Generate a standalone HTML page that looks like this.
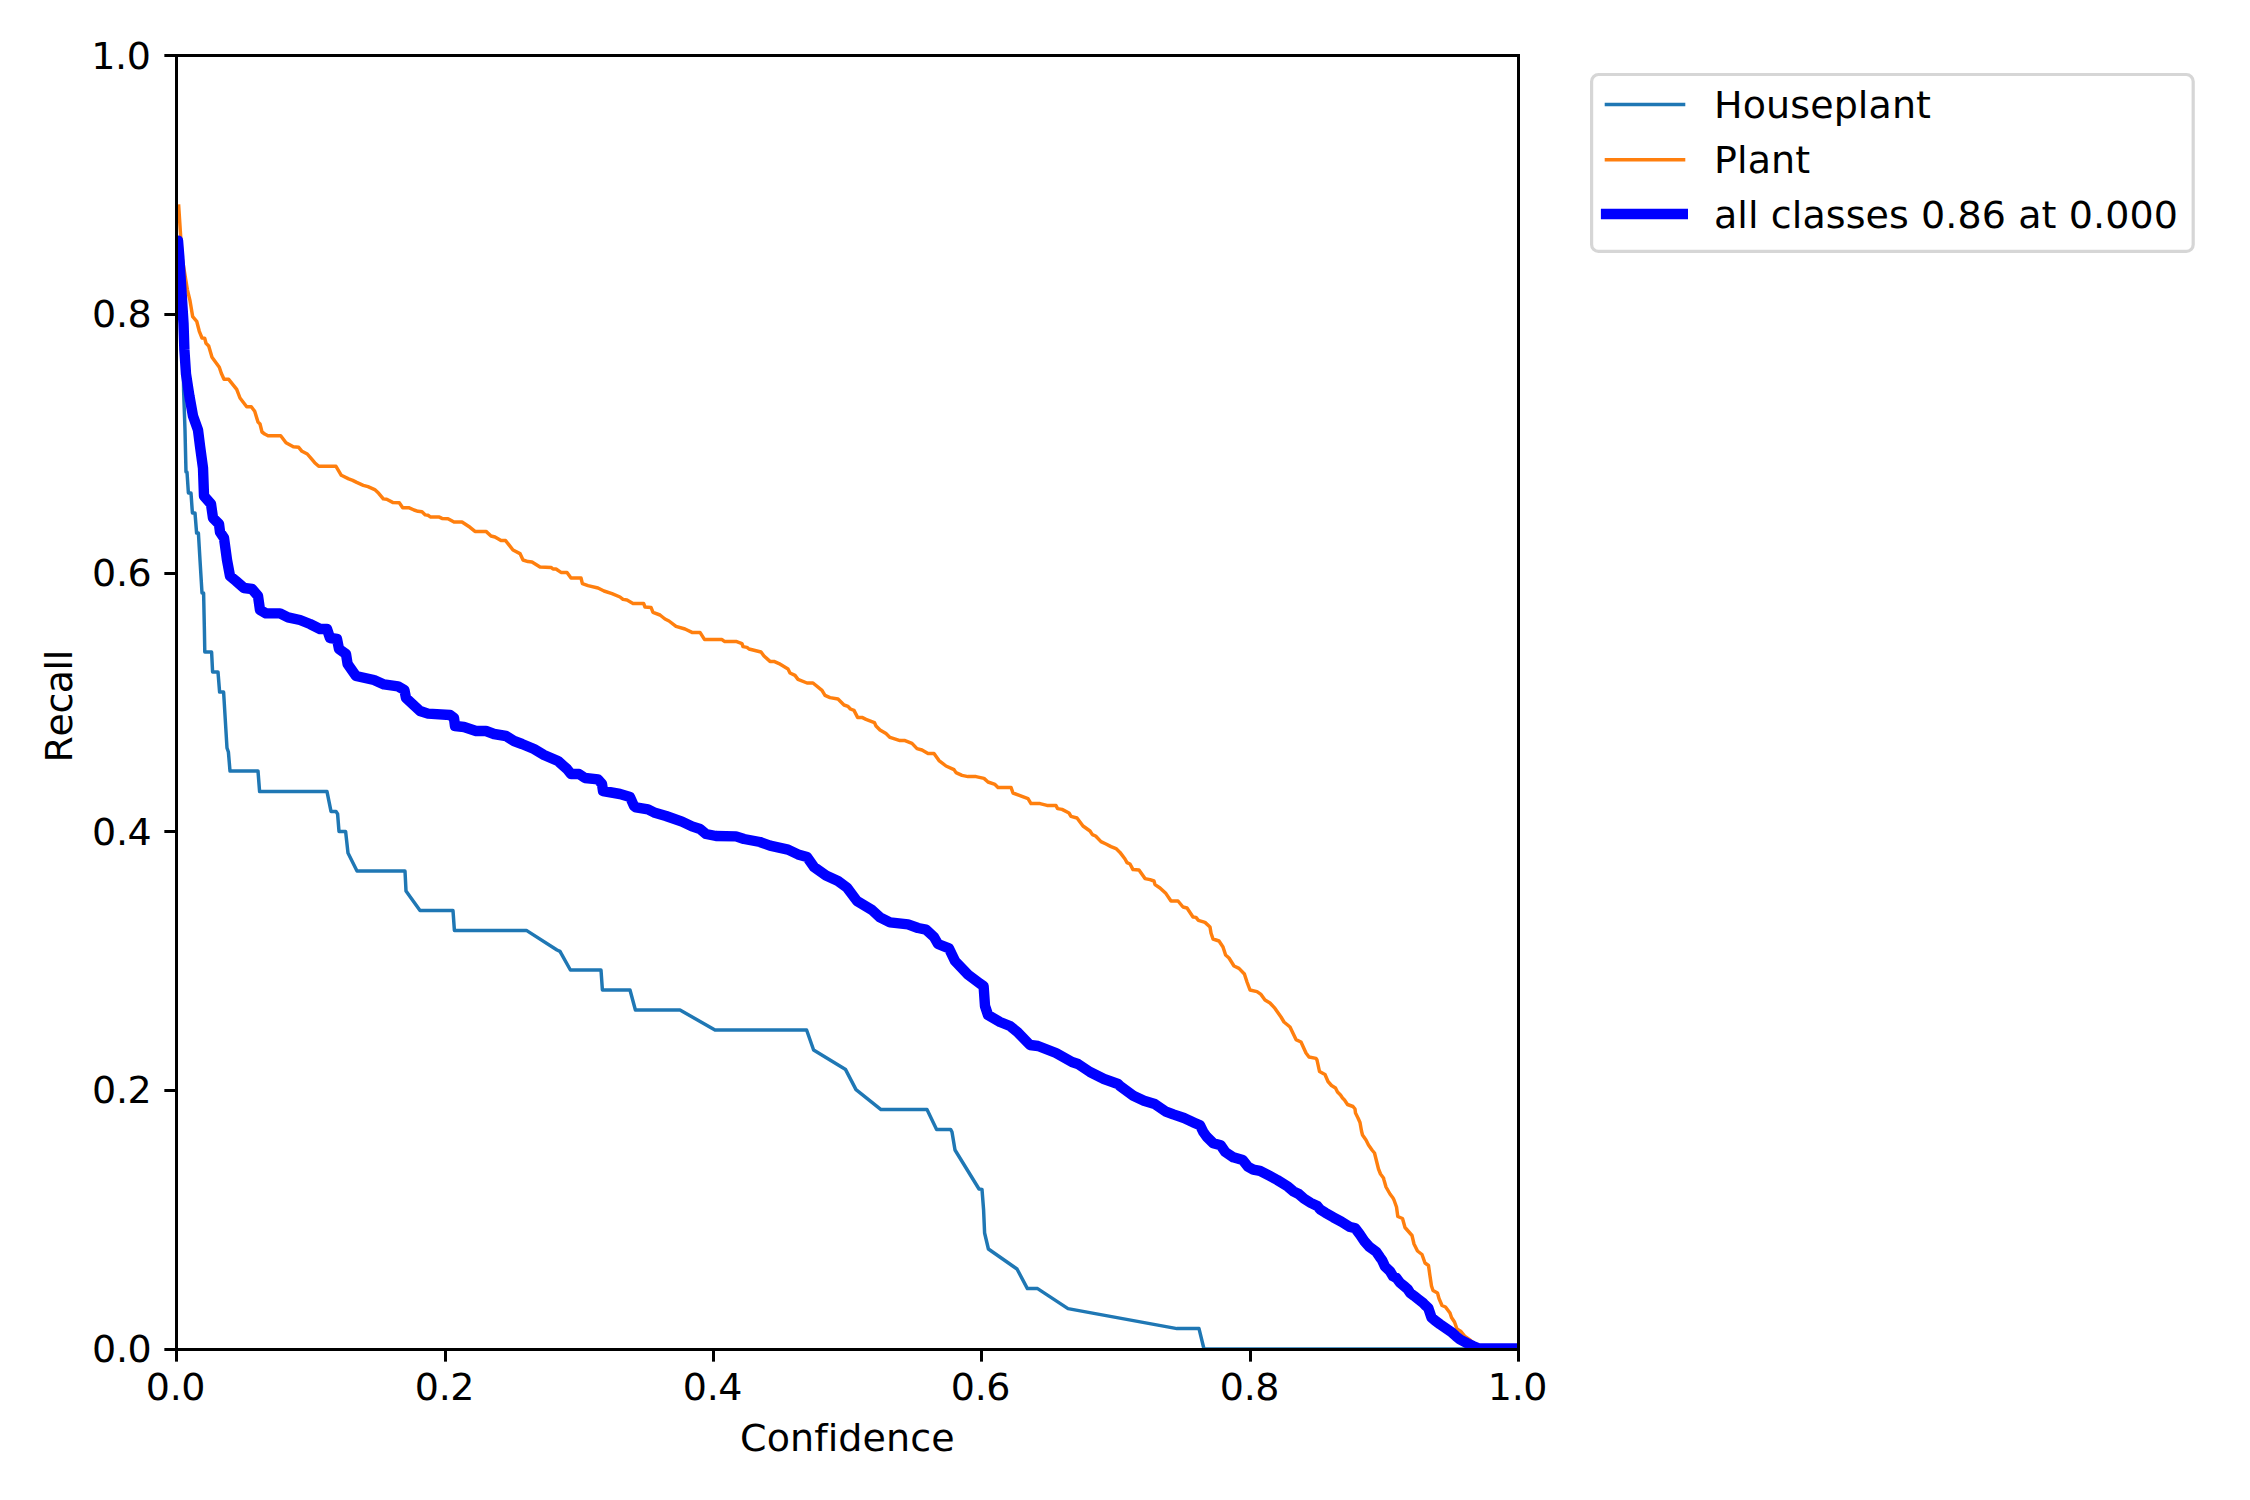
<!DOCTYPE html>
<html><head><meta charset="utf-8"><title>Recall-Confidence Curve</title>
<style>
html,body{margin:0;padding:0;background:#fff;}
body{width:2250px;height:1500px;overflow:hidden;}
svg{display:block;}
text{font-family:"DejaVu Sans","Liberation Sans",sans-serif;font-size:38.00px;fill:#000;font-variant-ligatures:none;font-kerning:none;}
</style></head><body>
<svg width="2250" height="1500" viewBox="0 0 2250 1500">
<rect width="2250" height="1500" fill="#fff"/>
<defs><clipPath id="ax"><rect x="176.5" y="55.5" width="1342.0" height="1294.0"/></clipPath></defs>

<g clip-path="url(#ax)" fill="none" stroke-linejoin="round" stroke-linecap="square">
<path d="M176.5,274.0 L180.0,275.0 L182.0,300.0 L183.2,350.0 L183.6,390.0 L185.0,430.0 L186.0,472.0 L187.0,472.0 L188.4,493.0 L191.0,493.0 L192.4,513.0 L195.0,513.0 L196.6,533.0 L198.4,533.0 L200.0,560.0 L202.0,593.0 L203.6,593.0 L204.4,630.0 L204.8,652.0 L211.6,652.0 L212.6,672.0 L218.0,672.0 L219.6,692.0 L223.6,692.0 L227.0,748.0 L228.4,752.0 L230.0,771.0 L258.0,771.0 L259.6,791.6 L327.0,791.6 L331.0,811.4 L336.0,811.4 L337.6,814.0 L339.0,831.4 L345.6,831.4 L348.0,853.0 L357.0,871.0 L405.0,871.0 L406.0,891.0 L420.0,910.6 L453.0,910.6 L454.4,930.4 L526.4,930.4 L557.0,950.0 L560.0,951.4 L570.4,970.0 L601.0,970.0 L602.4,990.0 L630.0,990.0 L635.4,1010.0 L680.0,1010.0 L715.0,1030.0 L770.0,1030.0 L806.6,1030.0 L813.6,1050.0 L845.6,1069.6 L856.0,1089.6 L881.0,1109.6 L927.0,1109.6 L936.6,1129.4 L950.6,1129.4 L952.0,1132.0 L955.0,1150.0 L979.0,1189.0 L982.0,1189.4 L983.6,1210.0 L984.6,1233.0 L988.4,1249.0 L1017.0,1269.0 L1027.4,1288.6 L1037.6,1288.6 L1068.0,1308.6 L1177.0,1328.6 L1199.0,1328.6 L1204.0,1349.0 L1518.4,1349.0" stroke="#1f77b4" stroke-width="3.47"/>
<path d="M178.7,206.0 L182.0,256.7 L187.3,289.3 L190.0,300.7 L192.7,316.7 L196.7,321.3 L199.3,331.3 L202.0,338.0 L204.7,338.3 L206.0,343.3 L208.7,346.0 L212.0,357.3 L219.3,367.3 L221.3,373.3 L224.0,379.3 L228.7,379.3 L236.7,389.3 L240.0,398.0 L246.7,406.7 L251.3,406.7 L254.7,411.3 L258.0,422.0 L260.0,424.0 L262.0,432.0 L264.7,434.0 L268.0,435.7 L280.7,435.7 L286.0,442.7 L293.3,446.7 L298.7,447.3 L302.0,451.3 L307.3,454.0 L311.3,458.7 L314.7,462.7 L318.7,466.3 L336.0,466.3 L341.3,475.3 L348.7,478.9 L352.7,480.4 L356.7,482.4 L363.3,485.3 L368.0,486.7 L374.7,489.6 L378.7,493.3 L383.3,498.9 L386.7,499.3 L392.7,502.4 L399.3,502.7 L402.7,507.7 L408.7,507.7 L414.0,510.0 L418.0,511.3 L422.0,511.7 L425.3,514.9 L428.0,515.3 L430.7,517.1 L439.3,517.1 L442.0,518.4 L448.0,518.7 L454.0,522.0 L462.0,522.0 L470.0,527.3 L475.0,531.4 L486.0,531.4 L491.0,536.0 L495.0,537.0 L501.0,540.6 L505.6,540.6 L513.0,550.0 L520.0,553.6 L523.0,560.0 L528.0,561.6 L532.0,562.0 L540.0,567.0 L551.0,567.4 L553.0,569.0 L556.0,569.0 L561.0,572.4 L567.0,572.4 L571.0,578.0 L581.0,578.0 L582.4,583.6 L588.0,585.6 L598.0,588.0 L604.0,591.0 L612.0,593.6 L620.0,597.0 L623.0,599.4 L627.0,600.0 L633.0,603.4 L643.6,603.4 L645.0,607.0 L651.0,607.4 L653.0,612.4 L660.0,615.0 L665.0,619.0 L669.0,621.0 L676.0,626.4 L685.0,629.0 L692.0,632.4 L700.0,632.4 L704.6,639.6 L722.0,639.6 L724.4,641.4 L736.0,641.4 L742.0,643.6 L743.0,646.6 L747.0,647.4 L749.0,649.0 L761.0,652.0 L764.0,656.0 L770.0,661.4 L774.0,661.4 L779.0,663.6 L788.0,669.0 L790.0,673.0 L795.0,675.4 L798.0,679.4 L807.0,683.0 L813.0,683.0 L822.0,690.4 L825.0,695.4 L830.0,697.6 L838.0,699.0 L844.0,705.0 L848.0,706.4 L850.4,709.0 L854.0,710.4 L857.6,717.4 L862.0,717.4 L866.0,719.4 L874.4,722.6 L876.0,726.0 L880.0,730.0 L886.0,733.6 L890.0,737.4 L900.0,740.6 L905.0,740.6 L912.0,743.4 L917.0,748.6 L922.0,750.0 L928.0,753.4 L934.0,753.4 L939.0,760.6 L946.0,766.0 L954.0,769.6 L956.0,772.6 L962.0,775.4 L968.0,776.6 L976.0,776.6 L984.0,778.4 L988.0,782.0 L995.0,784.4 L998.0,787.4 L1011.0,787.4 L1013.0,793.0 L1028.0,798.6 L1031.0,803.6 L1040.0,803.6 L1047.0,805.4 L1050.0,805.4 L1056.0,805.6 L1057.6,808.6 L1062.0,809.4 L1069.0,813.0 L1071.0,816.4 L1077.0,818.0 L1083.0,826.0 L1090.0,831.0 L1092.4,834.6 L1095.6,836.0 L1101.0,841.6 L1106.0,844.0 L1111.0,846.6 L1116.0,848.6 L1120.0,852.4 L1125.0,859.0 L1127.0,862.6 L1130.0,864.0 L1133.0,869.6 L1139.0,870.0 L1145.0,878.6 L1150.0,879.6 L1154.0,881.0 L1155.0,884.6 L1160.0,888.0 L1166.0,893.6 L1171.0,901.0 L1178.0,901.0 L1183.0,907.0 L1187.0,908.0 L1193.0,917.0 L1196.0,917.4 L1198.4,920.4 L1205.0,922.4 L1210.0,927.0 L1211.0,933.0 L1213.0,939.0 L1219.0,941.0 L1223.0,947.0 L1225.6,955.0 L1229.0,958.0 L1234.0,966.0 L1239.0,968.4 L1244.4,974.0 L1247.0,982.0 L1250.0,990.0 L1257.0,991.6 L1261.0,994.4 L1265.0,1000.0 L1270.0,1003.0 L1275.0,1008.4 L1281.0,1017.0 L1284.0,1022.0 L1290.0,1027.0 L1296.0,1039.6 L1301.0,1042.0 L1306.0,1053.0 L1309.0,1057.0 L1316.0,1058.4 L1317.0,1060.0 L1319.5,1071.5 L1325.0,1074.5 L1328.0,1081.5 L1331.5,1085.5 L1335.5,1088.0 L1337.5,1092.0 L1340.5,1095.0 L1342.5,1098.0 L1344.5,1100.0 L1347.5,1104.5 L1353.0,1106.5 L1355.0,1109.0 L1355.5,1113.0 L1358.0,1118.0 L1360.0,1122.5 L1361.5,1131.0 L1362.5,1135.0 L1366.0,1140.0 L1368.5,1145.0 L1372.0,1150.0 L1374.5,1153.0 L1376.5,1161.0 L1378.5,1169.0 L1380.5,1174.0 L1383.5,1178.0 L1384.0,1180.0 L1386.0,1187.0 L1390.0,1194.0 L1393.0,1198.0 L1394.0,1200.0 L1396.5,1207.0 L1397.8,1216.5 L1402.5,1218.5 L1405.0,1227.5 L1412.0,1235.5 L1414.0,1244.0 L1417.5,1251.0 L1422.0,1254.5 L1425.0,1263.0 L1428.5,1265.5 L1430.0,1276.0 L1431.5,1286.0 L1433.0,1290.5 L1437.5,1293.0 L1439.0,1298.5 L1442.0,1305.5 L1445.5,1307.0 L1450.0,1313.0 L1451.5,1317.5 L1454.5,1322.0 L1457.0,1329.0 L1461.0,1331.5 L1465.0,1336.5 L1470.0,1340.0 L1475.0,1345.0 L1479.0,1348.5" stroke="#ff7f0e" stroke-width="3.47"/>
<path d="M173.0,240.5 L178.0,240.6 L179.3,256.7 L183.5,323.3 L184.4,350.0 L186.0,374.0 L189.4,396.0 L193.0,416.0 L198.0,430.0 L200.0,446.0 L203.0,468.0 L204.0,496.0 L211.0,504.0 L213.0,518.0 L219.0,524.0 L220.0,532.0 L224.0,538.0 L227.0,560.0 L230.0,576.0 L236.0,581.0 L244.0,588.0 L252.0,589.0 L258.0,596.0 L260.0,610.0 L266.0,613.4 L280.0,613.4 L288.0,617.4 L300.0,620.0 L310.0,624.0 L320.0,629.0 L327.0,629.0 L330.0,638.0 L337.0,639.0 L339.0,649.0 L346.0,654.0 L347.6,664.0 L356.0,676.0 L374.0,680.0 L384.0,684.4 L398.0,686.4 L404.4,690.0 L406.0,698.0 L420.0,711.0 L428.0,713.6 L450.0,715.0 L454.0,718.0 L455.0,726.0 L464.0,727.0 L476.0,731.0 L486.0,731.0 L494.0,734.0 L506.0,736.0 L514.0,741.0 L522.0,744.0 L534.0,749.0 L544.0,755.0 L558.0,761.0 L567.0,769.0 L571.0,774.0 L579.0,774.0 L585.0,778.0 L598.0,779.4 L602.0,784.0 L603.0,791.0 L620.0,794.0 L630.0,797.0 L634.0,806.0 L636.0,807.4 L648.0,809.4 L654.0,812.4 L666.0,816.0 L682.0,821.6 L692.0,826.4 L700.0,829.0 L706.0,834.0 L716.0,836.0 L736.0,836.4 L744.0,839.0 L760.0,842.0 L770.0,845.6 L788.0,849.6 L798.0,854.4 L807.0,857.0 L814.0,867.0 L826.0,875.6 L838.0,881.0 L847.0,887.6 L857.0,901.0 L872.0,910.0 L880.0,917.4 L890.0,922.4 L908.0,924.4 L918.0,928.0 L926.0,929.6 L934.0,937.0 L938.0,944.0 L949.0,948.4 L955.0,961.0 L968.0,974.6 L980.0,983.6 L983.6,986.0 L985.0,1006.0 L988.0,1015.0 L1000.0,1022.0 L1010.0,1026.0 L1018.0,1032.6 L1030.0,1045.0 L1038.0,1046.0 L1056.0,1053.0 L1072.0,1062.0 L1078.0,1064.0 L1090.0,1072.0 L1104.0,1079.0 L1118.0,1084.0 L1120.0,1086.0 L1133.3,1095.7 L1144.0,1100.7 L1154.7,1104.0 L1165.3,1111.3 L1173.3,1114.4 L1184.0,1118.0 L1194.7,1122.9 L1200.0,1125.3 L1203.3,1132.0 L1206.7,1136.7 L1213.3,1143.3 L1220.7,1145.3 L1225.3,1152.0 L1233.3,1157.3 L1242.7,1160.0 L1248.0,1166.7 L1253.3,1169.6 L1260.0,1170.9 L1269.3,1175.7 L1277.3,1180.0 L1288.0,1186.7 L1293.3,1191.3 L1298.7,1194.0 L1304.0,1198.7 L1310.7,1202.9 L1317.3,1206.0 L1320.0,1209.3 L1325.3,1212.7 L1333.3,1217.3 L1341.3,1221.6 L1349.3,1226.7 L1355.3,1228.3 L1360.0,1234.7 L1364.0,1240.7 L1369.3,1246.7 L1376.0,1251.6 L1380.0,1257.3 L1382.0,1260.0 L1385.0,1266.5 L1390.0,1271.2 L1393.0,1276.2 L1396.5,1278.0 L1400.0,1282.8 L1404.5,1286.4 L1407.5,1288.9 L1410.0,1292.8 L1414.0,1295.8 L1418.0,1299.0 L1423.0,1302.9 L1425.0,1305.0 L1428.2,1307.8 L1431.5,1317.5 L1435.0,1320.5 L1440.0,1324.2 L1444.0,1327.0 L1448.0,1329.8 L1452.0,1332.6 L1456.0,1336.2 L1460.0,1339.5 L1467.0,1343.2 L1473.0,1346.0 L1479.0,1348.5 L1518.5,1348.5" stroke="#0000ff" stroke-width="10.42"/>
</g>
<g stroke="#000" stroke-width="3" fill="none">
<line x1="176.5" y1="1349.5" x2="176.5" y2="1361.65"/>
<line x1="176.5" y1="1349.5" x2="164.35" y2="1349.5"/>
<line x1="445.5" y1="1349.5" x2="445.5" y2="1361.65"/>
<line x1="176.5" y1="1090.5" x2="164.35" y2="1090.5"/>
<line x1="713.5" y1="1349.5" x2="713.5" y2="1361.65"/>
<line x1="176.5" y1="831.5" x2="164.35" y2="831.5"/>
<line x1="981.5" y1="1349.5" x2="981.5" y2="1361.65"/>
<line x1="176.5" y1="573.5" x2="164.35" y2="573.5"/>
<line x1="1250.5" y1="1349.5" x2="1250.5" y2="1361.65"/>
<line x1="176.5" y1="314.5" x2="164.35" y2="314.5"/>
<line x1="1518.5" y1="1349.5" x2="1518.5" y2="1361.65"/>
<line x1="176.5" y1="55.5" x2="164.35" y2="55.5"/>
</g>
<rect x="176.5" y="55.5" width="1342.0" height="1294.0" fill="none" stroke="#000" stroke-width="3" stroke-linejoin="miter"/>
<text x="175.7" y="1400" text-anchor="middle" textLength="59.7">0.0</text>
<text x="151.8" y="1362" text-anchor="end" textLength="59.7">0.0</text>
<text x="444.7" y="1400" text-anchor="middle" textLength="59.7">0.2</text>
<text x="151.8" y="1103" text-anchor="end" textLength="59.7">0.2</text>
<text x="712.7" y="1400" text-anchor="middle" textLength="59.7">0.4</text>
<text x="151.8" y="845" text-anchor="end" textLength="59.7">0.4</text>
<text x="980.7" y="1400" text-anchor="middle" textLength="59.7">0.6</text>
<text x="151.8" y="586" text-anchor="end" textLength="59.7">0.6</text>
<text x="1249.7" y="1400" text-anchor="middle" textLength="59.7">0.8</text>
<text x="151.8" y="327" text-anchor="end" textLength="59.7">0.8</text>
<text x="1517.7" y="1400" text-anchor="middle" textLength="59.7">1.0</text>
<text x="151.0" y="69" text-anchor="end" textLength="59.7">1.0</text>
<text x="847.3" y="1450.8" text-anchor="middle" textLength="214.63">Confidence</text>
<text transform="translate(72.2,706.1) rotate(-90)" text-anchor="middle" textLength="112.7">Recall</text>
<rect x="1591.6" y="74.5" width="601.6" height="176.9" rx="6.9" ry="6.9" fill="#fff" stroke="#d6d6d6" stroke-width="3.2"/>
<line x1="1604.7" y1="104.4" x2="1685.3" y2="104.4" stroke="#1f77b4" stroke-width="3.47"/>
<line x1="1604.7" y1="159.7" x2="1685.3" y2="159.7" stroke="#ff7f0e" stroke-width="3.47"/>
<line x1="1600.9" y1="214.0" x2="1688.0" y2="214.0" stroke="#0000ff" stroke-width="10.42"/>
<text x="1714.0" y="118" textLength="217.02">Houseplant</text>
<text x="1714.0" y="173" textLength="96.19">Plant</text>
<text x="1714.0" y="228" textLength="463.91">all classes 0.86 at 0.000</text>
</svg></body></html>
